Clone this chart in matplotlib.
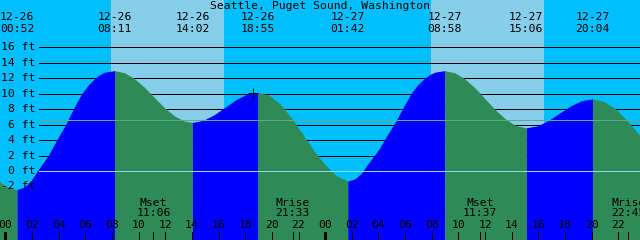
# XTide style tide graph: Seattle, Puget Sound, Washington

import numpy as np
import matplotlib
matplotlib.use('Agg')
import matplotlib.pyplot as plt

# water level (hours since 12-26 00:00, feet)
tide_hours = [-0.5, 0.0, 0.45, 0.867, 1.4, 1.9, 2.39, 3.21, 3.84, 4.51, 5.08, 5.71, 6.2, 6.71, 7.1, 7.45,
              8.183, 8.93, 9.68, 10.43, 11.18, 11.93, 12.68, 13.43,
              14.033, 14.85, 15.66, 16.48, 17.29, 18.10,
              18.917, 19.765, 20.61, 21.46, 22.31, 23.16, 24.0, 24.85,
              25.7, 26.23, 26.72, 27.21, 28.03, 28.65, 29.32, 29.89, 30.51, 30.99, 31.51, 31.89, 32.24,
              32.967, 33.73, 34.50, 35.27, 36.03, 36.80, 37.57, 38.33,
              39.1, 39.93, 40.76, 41.58, 42.41, 43.24,
              44.067, 44.93, 45.80, 46.66, 47.53, 48.0]
tide_feet = [-1.25, -1.95, -2.3, -2.4, -2.1, -1.3, 0.0, 2.0, 4.0, 6.0, 8.0, 10.0, 11.1, 12.0, 12.5, 12.8,
             13.0, 12.73, 11.97, 10.84, 9.52, 8.21, 7.14, 6.47,
             6.3, 6.56, 7.28, 8.25, 9.23, 9.94,
             10.2, 9.85, 8.7, 6.9, 4.8, 2.6, 0.8, -0.6,
             -1.3, -1.03, -0.28, 0.93, 2.79, 4.65, 6.49, 8.35, 10.21, 11.24, 12.07, 12.54, 12.81,
             13.0, 12.72, 11.92, 10.72, 9.3, 7.88, 6.68, 5.88,
             5.6, 5.85, 6.54, 7.48, 8.41, 9.10,
             9.35, 9.01, 8.05, 6.55, 4.8, 3.85]

# high / low water events
event_hours = [0.867, 8.183, 14.033, 18.917, 25.7, 32.967, 39.1, 44.067]
event_dates = ['12-26', '12-26', '12-26', '12-26', '12-27', '12-27', '12-27', '12-27']
event_times = ['00:52', '08:11', '14:02', '18:55', '01:42', '08:58', '15:06', '20:04']

# sunrise, sunset, sunrise, sunset
sun_hours = [7.9, 16.4, 31.92, 40.42]

moon_hours = [11.1, 21.55, 35.617, 46.75]
moon_names = ['Mset', 'Mrise', 'Mset', 'Mrise']
moon_times = ['11:06', '21:33', '11:37', '22:45']

now_hour = 18.56
now_feet = 10.1

level_ticks = [-2, 0, 2, 4, 6, 8, 10, 12, 14, 16]
datum_level = 0
msl_level = 6.55

title = 'Seattle, Puget Sound, Washington'

NIGHT = '#00BFFF'
DAY = '#87CEEB'
RISE = '#0000FF'
FALL = '#2E8B57'

W, H = 640, 240
PX_HOUR = 13.32
X_ZERO = 5.5
PX_FT = 7.72
Y_ZERO = 171

x0 = -X_ZERO / PX_HOUR
x1 = (W - X_ZERO) / PX_HOUR
y1 = Y_ZERO / PX_FT
y0 = -(H - Y_ZERO) / PX_FT

ONE_PX = 0.6  # points, renders as a single pixel line


def fy(ypx):
    """pixel row from top -> axes fraction"""
    return 1 - ypx / H


plt.rcParams['font.family'] = ['DejaVu Sans Mono']
plt.rcParams['font.size'] = 8.2

fig = plt.figure(figsize=(W / 100, H / 100), dpi=100, facecolor=NIGHT)
ax = fig.add_axes([0, 0, 1, 1])
ax.set_xlim(x0, x1)
ax.set_ylim(y0, y1)
ax.axis('off')

# daylight bands
for a, b in zip(sun_hours[0::2], sun_hours[1::2]):
    ax.axvspan(a, b, color=DAY, lw=0, zorder=0)

# level lines behind the water
for lv in level_ticks:
    ax.axhline(lv, xmin=39 / W, xmax=1, color='black', lw=ONE_PX, antialiased=False, zorder=1)

# water, blue while rising, green while falling
t = np.array(tide_hours)
h = np.array(tide_feet)
bounds = [t[0]] + event_hours + [t[-1]]
for a, b in zip(bounds[:-1], bounds[1:]):
    m = (t >= a) & (t <= b)
    col = RISE if h[m][-1] > h[m][0] else FALL
    ax.fill_between(t[m], h[m], y0, color=col, lw=0, zorder=2)

ax.axhline(datum_level, xmin=39 / W, xmax=1, color='#8FDDF0', lw=ONE_PX, antialiased=False, zorder=3)
ax.axhline(msl_level, xmin=39 / W, xmax=1, color='#5FA890', lw=ONE_PX, antialiased=False, zorder=3)

ax.plot(now_hour, now_feet, marker='+', ms=7, mew=0.7, color='black', zorder=5)

# text
tx = ax.get_xaxis_transform()
ty = ax.get_yaxis_transform()
ax.text(0.5, fy(6), title, transform=ax.transAxes, ha='center', va='center', zorder=5)
for eh, d, s in zip(event_hours, event_dates, event_times):
    ax.text(eh, fy(17), d, transform=tx, ha='center', va='center', zorder=5)
    ax.text(eh, fy(29.5), s, transform=tx, ha='center', va='center', zorder=5)

for lv in level_ticks:
    ax.text(35.5 / W, lv, f'{lv} ft', transform=ty, ha='right', va='center', zorder=5)

hours = np.arange(0, 48, 2)
for hr in hours:
    ax.text(hr, fy(225), f'{hr % 24:02d}', transform=tx, ha='center', va='center', zorder=5)
ax.vlines(hours[hours % 24 != 0], fy(240), fy(232), transform=tx, color='black',
          lw=ONE_PX, antialiased=False, zorder=5)
ax.vlines(hours[hours % 24 == 0], fy(240), fy(232), transform=tx, color='black',
          lw=2, antialiased=False, zorder=5)

for mh, n, s in zip(moon_hours, moon_names, moon_times):
    ax.text(mh, fy(202.5), n, transform=tx, ha='center', va='center', zorder=5)
    ax.text(mh, fy(213.5), s, transform=tx, ha='center', va='center', zorder=5)
ax.vlines(moon_hours, fy(240), fy(232), transform=tx, color='black',
          lw=ONE_PX, antialiased=False, zorder=5)

fig.savefig('out.png', dpi=100, facecolor=fig.get_facecolor())
